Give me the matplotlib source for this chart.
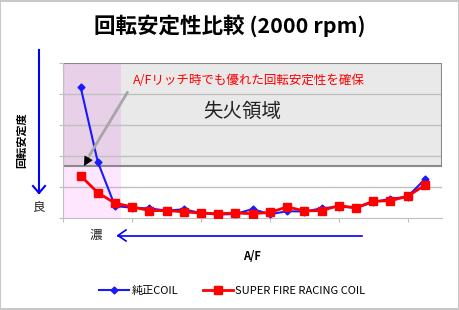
import matplotlib.pyplot as plt
from matplotlib.patches import Rectangle

plt.rcParams['font.family'] = ['Noto Sans CJK JP', 'DejaVu Sans']

# data (y = rotation instability, arbitrary units)
idx = list(range(1, 22))
junsei = [4.24, 1.81, 0.38, 0.32, 0.30, 0.23, 0.27, 0.15, 0.10, 0.12, 0.28,
          0.11, 0.21, 0.20, 0.30, 0.36, 0.32, 0.50, 0.61, 0.68, 1.24]
superfire = [1.36, 0.81, 0.47, 0.35, 0.23, 0.23, 0.19, 0.15, 0.13, 0.15, 0.13,
             0.17, 0.35, 0.22, 0.23, 0.39, 0.32, 0.53, 0.55, 0.69, 1.05]
labels = ['純正COIL', 'SUPER FIRE RACING COIL']

W, H = 460, 310
fig = plt.figure(figsize=(W / 100, H / 100), dpi=100)

def fx(px):
    return px / W

def fy(py):
    return 1 - py / H

ax = fig.add_axes([fx(63.3), fy(217.7), fx(442) - fx(63.3), fy(63) - fy(217.7)])
ax.set_xlim(0, 22)
ax.set_ylim(0, 5)

# misfire zone and rich zone
ax.add_patch(Rectangle((0, 1.67), 22, 3.33, facecolor='#e9e9e9', edgecolor='none', zorder=0))
ax.add_patch(Rectangle((0, 0), 3.33, 1.67, facecolor='#ffe6ff', edgecolor='none', zorder=0))
ax.add_patch(Rectangle((0, 1.67), 3.33, 3.33, facecolor='#e8d0e8', edgecolor='none', zorder=0))
for yy in [1, 2, 3, 4]:
    ax.axhline(yy, color='#c0c0c0', lw=1, zorder=1)
ax.add_patch(Rectangle((0, 1.67), 22, 3.33, facecolor='none', edgecolor='#8a8a8a', lw=1.5, zorder=2))

ax.plot(idx, junsei, color='#1a1aff', lw=1.5, marker='D', ms=3.5, zorder=4, label=labels[0])
ax.plot(idx, superfire, color='#ff0000', lw=2, marker='s', ms=5.5, zorder=5, label=labels[1])

ax.set_xticks([0, 4, 8, 12, 16, 20])
ax.set_yticks([0, 1, 2, 3, 4, 5])
ax.tick_params(length=3, color='#bfbfbf', labelbottom=False, labelleft=False)
for s in ['top', 'right']:
    ax.spines[s].set_visible(False)
for s in ['left', 'bottom']:
    ax.spines[s].set_color('#bfbfbf')

ax.text(10.4, 3.42, '失火領域', fontsize=14, ha='center', va='center', color='#222222', zorder=6)
ax.text(4.05, 4.45, 'A/Fリッチ時でも優れた回転安定性を確保', fontsize=9, color='#ff0000',
        ha='left', va='center', zorder=6)
ax.annotate('', xy=(1.45, 1.95), xytext=(3.81, 4.13),
            arrowprops=dict(arrowstyle='-', color='#a6a6a6', lw=2), zorder=6)
ax.annotate('', xy=(1.2, 1.67), xytext=(1.49, 1.95),
            arrowprops=dict(arrowstyle='-|>,head_length=0.6,head_width=0.3', color='black',
                            lw=0.5, shrinkA=0, shrinkB=0), zorder=7)

# title
fig.text(0.5, fy(26), '回転安定性比較 (2000 rpm)', fontsize=15.5, fontweight='bold', ha='center', va='center')

# vertical arrow and labels
fig.add_artist(plt.Line2D([fx(39), fx(39)], [fy(50), fy(193)], color='#0000ff', lw=1.5))
fig.add_artist(plt.Line2D([fx(33), fx(39), fx(45)], [fy(186), fy(193), fy(186)], color='#0000ff', lw=1.5))
fig.text(fx(22), fy(140), '回転安定度', fontsize=8, fontweight='bold', rotation=90, ha='center', va='center')
fig.text(fx(38), fy(207), '良', fontsize=9, ha='center', va='center', color='#222222')

# horizontal arrow and labels
fig.add_artist(plt.Line2D([fx(362), fx(118)], [fy(235.5), fy(235.5)], color='#0000ff', lw=1.2))
fig.add_artist(plt.Line2D([fx(126), fx(118), fx(126)], [fy(230), fy(235.5), fy(241)], color='#0000ff', lw=1.2))
fig.text(fx(96), fy(235), '濃', fontsize=9, ha='center', va='center', color='#222222')
fig.text(fx(252), fy(256), 'A/F', fontsize=8, fontweight='bold', ha='center', va='center')

fig.legend(loc='center', bbox_to_anchor=(0.505, fy(291)), ncol=2, frameon=False, fontsize=8,
           handlelength=2.7, handletextpad=0.2, columnspacing=2.2)

fig.add_artist(Rectangle((0.001, 0.002), 0.997, 0.995, transform=fig.transFigure,
                         facecolor='none', edgecolor='#c8c8c8', lw=1.5))

fig.savefig('out.png', dpi=100)
